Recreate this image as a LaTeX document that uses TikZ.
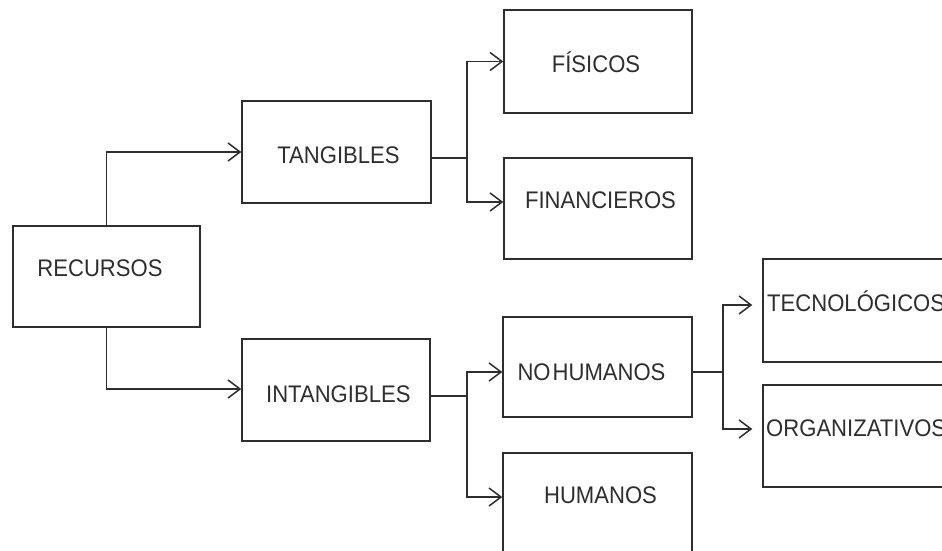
\documentclass[tikz,border=0pt]{standalone}
\usepackage{fontspec}
\setmainfont{Liberation Sans}[FakeStretch=0.92]
\usetikzlibrary{arrows.meta}
\definecolor{ink}{HTML}{2E2E2E}
\begin{document}
\begin{tikzpicture}[x=1pt,y=-1pt,
  box/.style={draw=ink, line width=1.5pt, rectangle, inner sep=0pt,
    minimum width=#1, minimum height=102pt},
  lbl/.style={inner sep=0pt, anchor=base, text=ink,
    font=\fontsize{24}{28}\selectfont},
  lblw/.style={lbl, anchor=base west},
  wire/.style={draw=ink, line width=1.5pt},
  arr/.style={wire, -{Straight Barb[length=12pt,width=18pt]}}]
\useasboundingbox (0,0) rectangle (942,551);
\clip (0,0) rectangle (942,551);

% boxes
\node[box=187pt, minimum height=101pt] (rec) at (106.5,276.5) {};
\node[box=189pt] (tan) at (336.5,152) {};
\node[box=188pt] (intan) at (336,390) {};
\node[box=188pt, minimum height=103pt] (fis) at (598,61.5) {};
\node[box=188pt, minimum height=101pt] (fin) at (598,208.5) {};
\node[box=189pt, minimum height=100pt] (noh) at (597.5,367) {};
\node[box=189pt, minimum height=100pt] (hum) at (597.5,503) {};
\node[box=190pt, minimum height=103pt] (tec) at (858,310.5) {};
\node[box=190pt, minimum height=102pt] (org) at (858,436) {};

% labels
\node[lbl] (recT) at (100,276.5) {RECURSOS};
\node[lbl] (tanT) at (338.5,163) {TANGIBLES};
\node[lbl] (intanT) at (338.3,402) {INTANGIBLES};
\node[lbl] (fisT) at (596,72.5) {FÍSICOS};
\node[lbl] (finT) at (600.5,208) {FINANCIEROS};
\node[lbl] (nohT) at (591.5,380) {NO\kern2pt HUMANOS};
\node[lbl] (humT) at (600.5,503) {HUMANOS};
\node[lblw] (tecT) at (767,311.5) {TECNOLÓGICOS};
\node[lblw] (orgT) at (766,436) {ORGANIZATIVOS};

% first split
\draw[arr] (rec.north) |- (tan.west);
\draw[arr] (rec.south) |- ([yshift=1pt]intan.west);

% tangibles
\coordinate (j1) at (467,158);
\draw[wire] (j1 -| tan.east) -- (j1);
\draw[arr] (j1) |- (fis.west);
\draw[arr] (j1) |- ([yshift=6.5pt]fin.west);

% intangibles
\coordinate (j2) at (467,396);
\draw[wire] (j2 -| intan.east) -- (j2);
\draw[arr] (j2) |- ([yshift=-5pt]noh.west);
\draw[arr] (j2) |- ([yshift=6pt]hum.west);

% no humanos: these arrows stop short of their boxes
\coordinate (j3) at (723,372);
\draw[wire] (j3 -| noh.east) -- (j3);
\draw[arr, shorten >=10pt] (j3) |- ([yshift=5.5pt]tec.west);
\draw[arr, shorten >=10pt] (j3) |- ([yshift=7pt]org.west);
\end{tikzpicture}
\end{document}
